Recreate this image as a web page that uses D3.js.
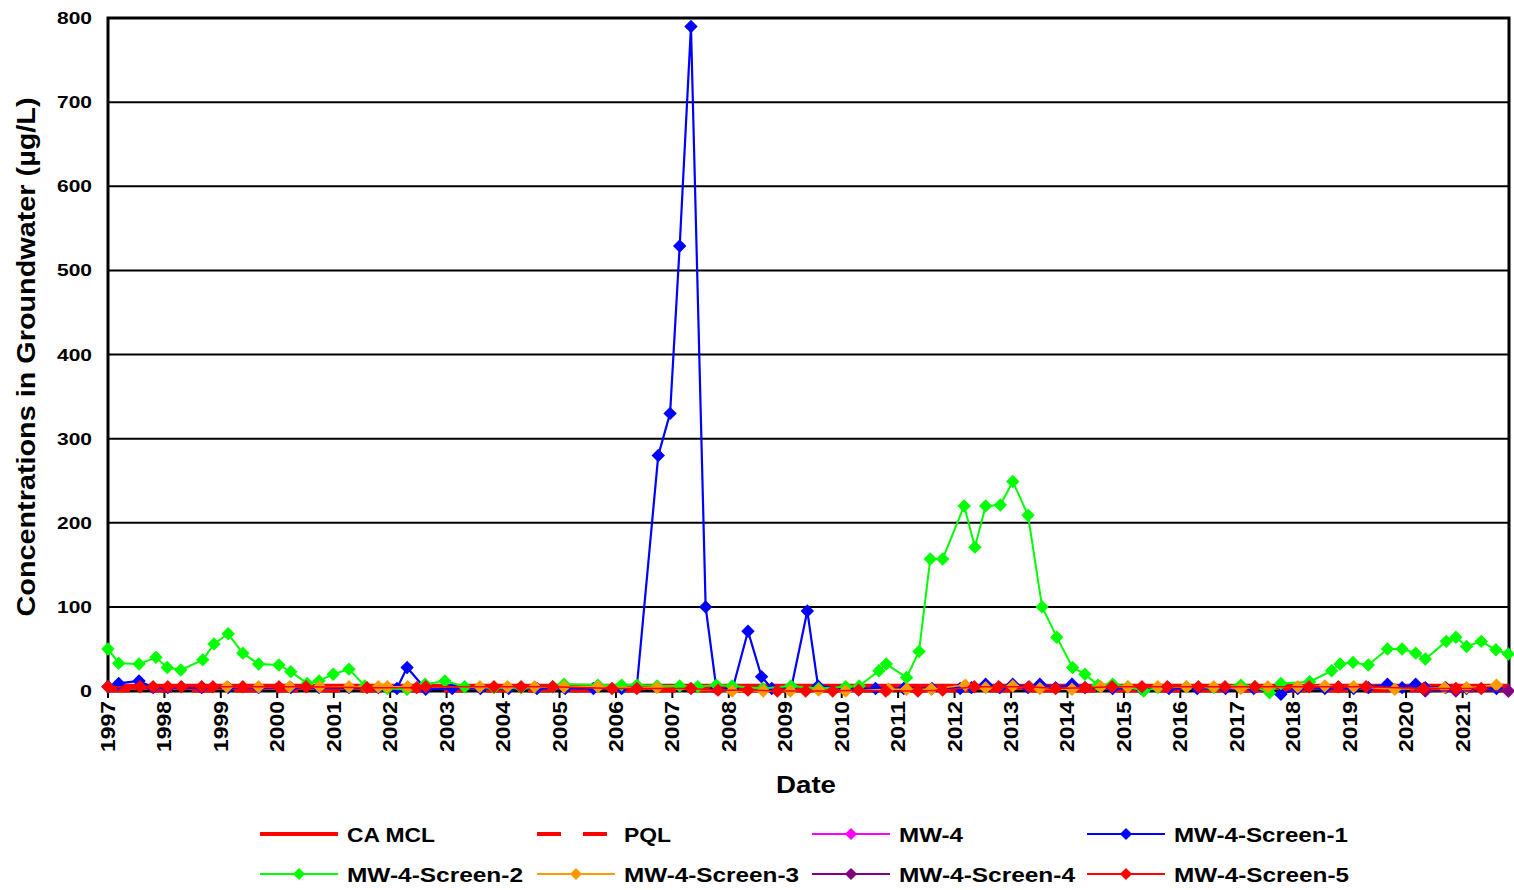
<!DOCTYPE html>
<html><head><meta charset="utf-8">
<script src="https://cdn.jsdelivr.net/npm/d3@7"></script>
<style>
body{margin:0;background:#fff}
text{font-family:"Liberation Sans",Arial,sans-serif;font-weight:bold;fill:#000}
</style>
</head><body>
<svg id="chart" width="1514" height="890"></svg>
<script>
// ---------- data ----------
const yearTicks = [1997,1998,1999,2000,2001,2002,2003,2004,2005,2006,2007,2008,2009,2010,2011,2012,2013,2014,2015,2016,2017,2018,2019,2020,2021];
const yTicks = [0,100,200,300,400,500,600,700,800];
const mclValue = 5;
const pqlValue = 0.5;

const mw4Dates = [2021.81];
const mw4Values = [0];

const s1Dates = [1997.0,1997.19,1997.55,1997.8,1998.06,1998.66,1999.13,1999.67,2000.24,2000.74,2001.27,2001.79,2002.12,2002.3,2002.63,2003.1,2003.6,2004.1,2004.6,2005.1,2005.6,2006.1,2006.37,2006.75,2006.96,2007.13,2007.33,2007.59,2007.78,2008.07,2008.34,2008.58,2008.76,2009.11,2009.39,2009.58,2010.07,2010.6,2011.1,2011.6,2012.1,2012.3,2012.55,2012.8,2013.03,2013.3,2013.51,2013.79,2014.08,2014.31,2014.8,2015.3,2015.8,2016.3,2016.8,2017.3,2017.78,2018.08,2018.56,2019.07,2019.33,2019.67,2019.93,2020.17,2020.34,2020.7,2021.07,2021.6];
const s1Values = [5,9,12,4,4,4,4,4,4,4,4,4,3,28,2,3,3,3,3,3,3,3,5,280,330,529,790,100,3,3,71,17,3,5,95,6,3,3,3,3,3,4,8,4,8,4,8,4,8,4,3,3,3,3,3,3,-4,3,3,3,4,8,4,8,4,4,3,3];

const s2Dates = [1997.0,1997.19,1997.55,1997.85,1998.05,1998.29,1998.68,1998.88,1999.13,1999.39,1999.67,2000.03,2000.24,2000.53,2000.74,2000.99,2001.27,2001.55,2001.95,2002.3,2002.62,2002.97,2003.32,2003.84,2004.32,2004.88,2005.08,2005.68,2006.1,2006.37,2006.73,2007.13,2007.45,2007.78,2008.06,2008.6,2009.1,2009.59,2010.07,2010.31,2010.66,2010.79,2011.15,2011.37,2011.57,2011.79,2012.17,2012.36,2012.55,2012.81,2013.03,2013.3,2013.55,2013.81,2014.09,2014.31,2014.54,2014.8,2015.07,2015.35,2015.6,2016.11,2016.59,2017.07,2017.32,2017.58,2017.78,2018.29,2018.68,2018.83,2019.06,2019.33,2019.67,2019.93,2020.17,2020.34,2020.71,2020.88,2021.07,2021.33,2021.59,2021.81];
const s2Values = [50,33,32,40,28,25,37,56,68,45,32,31,23,9,12,20,26,6,3,2,8,12,5,4,4,5,8,7,7,7,6,6,5,7,6,3,6,3,5,6,24,32,16,47,157,157,220,171,220,221,249,209,100,64,28,20,7,8,5,0,4,5,4,7,5,-2,9,11,24,32,34,31,50,50,45,38,59,64,53,59,49,44];

const s3Dates = [1999.11,1999.67,2000.22,2000.75,2001.27,2001.79,2001.95,2002.31,2003.59,2004.08,2004.56,2005.08,2005.68,2006.73,2008.06,2008.61,2009.09,2009.59,2010.07,2010.83,2011.15,2011.59,2012.19,2012.55,2013.03,2013.51,2014.08,2014.59,2015.07,2015.6,2016.11,2016.59,2017.07,2017.55,2018.08,2018.56,2019.07,2019.8,2020.68,2021.07,2021.6];
const s3Values = [5,5,5,5,5,5,5,5,5,5,5,5,5,4,0,0,0,1,0,2,2,2,7,4,6,3,2,5,5,5,5,5,3,5,5,6,5,2,4,4,7];

const s4Dates = [2020.34,2020.88,2021.81];
const s4Values = [0,0,0];

const s5Dates = [1997.0,1997.57,1997.8,1998.06,1998.3,1998.66,1998.86,1999.39,2000.03,2000.51,2001.59,2002.47,2002.63,2003.84,2004.32,2004.88,2005.93,2006.37,2007.33,2007.81,2008.34,2008.86,2009.36,2009.84,2010.3,2010.78,2011.35,2011.79,2012.35,2012.78,2013.32,2013.79,2014.31,2014.79,2015.32,2015.77,2016.32,2016.79,2017.32,2018.28,2018.8,2019.29,2020.31,2020.88,2021.33];
const s5Values = [5,5,5,5,5,5,5,5,5,5,4,4,5,5,5,5,3,3,3,1,1,0,0,0,1,0,0,1,5,5,5,3,4,5,5,5,5,5,5,5,5,5,3,3,3];

const seriesNames = ["CA MCL","PQL","MW-4","MW-4-Screen-1","MW-4-Screen-2","MW-4-Screen-3","MW-4-Screen-4","MW-4-Screen-5"];
const seriesColors = ["#ff0000","#ff0000","#ff00ff","#0000ff","#00ff00","#ff9900","#800080","#ff0000"];

// ---------- chart ----------
const svg = d3.select("#chart");
const L = 108, R = 1509, T = 18, B = 691;
function toDate(v){ const yr=Math.floor(v); const a=new Date(yr,0,1), b=new Date(yr+1,0,1); return new Date(+a + (v-yr)*(b-a)); }
const x = d3.scaleTime().domain([new Date(1997,0,1), new Date(2021,9,28)]).range([L,R]);
const y = d3.scaleLinear().domain([0,800]).range([B,T]);

// gridlines
svg.append("g").selectAll("line").data(yTicks.filter(v=>v>0&&v<800)).join("line")
  .attr("x1",L).attr("x2",R).attr("y1",d=>y(d)).attr("y2",d=>y(d))
  .attr("stroke","#000").attr("stroke-width",2);

// plot frame
svg.append("rect").attr("x",L).attr("y",T).attr("width",R-L).attr("height",B-T)
  .attr("fill","none").attr("stroke","#000").attr("stroke-width",3);

// x ticks
svg.append("g").selectAll("line").data(yearTicks).join("line")
  .attr("x1",d=>x(new Date(d,0,1))).attr("x2",d=>x(new Date(d,0,1)))
  .attr("y1",B).attr("y2",B+7).attr("stroke","#000").attr("stroke-width",2);

// x labels
svg.append("g").selectAll("text").data(yearTicks).join("text")
  .attr("transform",d=>`translate(${x(new Date(d,0,1))+7},701) rotate(-90)`)
  .attr("text-anchor","end").attr("font-size",21)
  .attr("textLength",51).attr("lengthAdjust","spacingAndGlyphs")
  .text(d=>d);

// y labels
svg.append("g").selectAll("text").data(yTicks).join("text")
  .attr("x",92).attr("y",d=>y(d)+6).attr("text-anchor","end").attr("font-size",17)
  .attr("textLength",d=>String(d).length===1?12:35).attr("lengthAdjust","spacingAndGlyphs")
  .text(d=>d);

// axis titles
svg.append("text").attr("transform","translate(35,357) rotate(-90)").attr("text-anchor","middle")
  .attr("font-size",25).attr("textLength",519).attr("lengthAdjust","spacingAndGlyphs")
  .text("Concentrations in Groundwater (µg/L)");
svg.append("text").attr("x",806).attr("y",793).attr("text-anchor","middle")
  .attr("font-size",24).attr("textLength",60).attr("lengthAdjust","spacingAndGlyphs").text("Date");

// reference lines
svg.append("line").attr("x1",L).attr("x2",R).attr("y1",y(mclValue)).attr("y2",y(mclValue))
  .attr("stroke",seriesColors[0]).attr("stroke-width",6);
svg.append("line").attr("x1",L).attr("x2",R).attr("y1",y(pqlValue)).attr("y2",y(pqlValue))
  .attr("stroke",seriesColors[1]).attr("stroke-width",4).attr("stroke-dasharray","22,20");

const diamond = d3.symbol().type(d3.symbolDiamond2).size(115);
const line = d3.line().x(d=>x(d.date)).y(d=>y(d.v));
function drawSeries(dates, values, color, lw){
  const pts = dates.map((d,i)=>({date:toDate(d), v:values[i]}));
  const g = svg.append("g");
  g.append("path").datum(pts).attr("d",line).attr("fill","none").attr("stroke",color).attr("stroke-width",lw);
  g.selectAll("path.m").data(pts).join("path").attr("class","m")
    .attr("d",diamond).attr("transform",d=>`translate(${x(d.date)},${y(d.v)})`).attr("fill",color);
}
drawSeries(mw4Dates, mw4Values, seriesColors[2], 2);
drawSeries(s1Dates, s1Values, seriesColors[3], 2.2);
drawSeries(s2Dates, s2Values, seriesColors[4], 2);
drawSeries(s3Dates, s3Values, seriesColors[5], 1.5);
drawSeries(s4Dates, s4Values, seriesColors[6], 1.5);
drawSeries(s5Dates, s5Values, seriesColors[7], 1.5);

// legend
const legCols = [260,537,812,1087], legRows = [834,874];
const legWidths = [88,47,64,174,176,175,176,175];
seriesNames.forEach((name,i)=>{
  const cx = legCols[i%4], cy = legRows[Math.floor(i/4)];
  const g = svg.append("g");
  if(i===0){
    g.append("line").attr("x1",cx).attr("x2",cx+78).attr("y1",cy).attr("y2",cy).attr("stroke",seriesColors[i]).attr("stroke-width",4);
  } else if(i===1){
    g.append("line").attr("x1",cx).attr("x2",cx+72).attr("y1",cy).attr("y2",cy).attr("stroke",seriesColors[i]).attr("stroke-width",4).attr("stroke-dasharray","24,22");
  } else {
    g.append("line").attr("x1",cx).attr("x2",cx+78).attr("y1",cy).attr("y2",cy).attr("stroke",seriesColors[i]).attr("stroke-width",2);
    g.append("path").attr("d",d3.symbol().type(d3.symbolDiamond2).size(95)).attr("transform",`translate(${cx+39},${cy})`).attr("fill",seriesColors[i]);
  }
  g.append("text").attr("x",cx+87).attr("y",cy+8).attr("font-size",21)
    .attr("textLength",legWidths[i]).attr("lengthAdjust","spacingAndGlyphs").text(name);
});
</script>
</body></html>
